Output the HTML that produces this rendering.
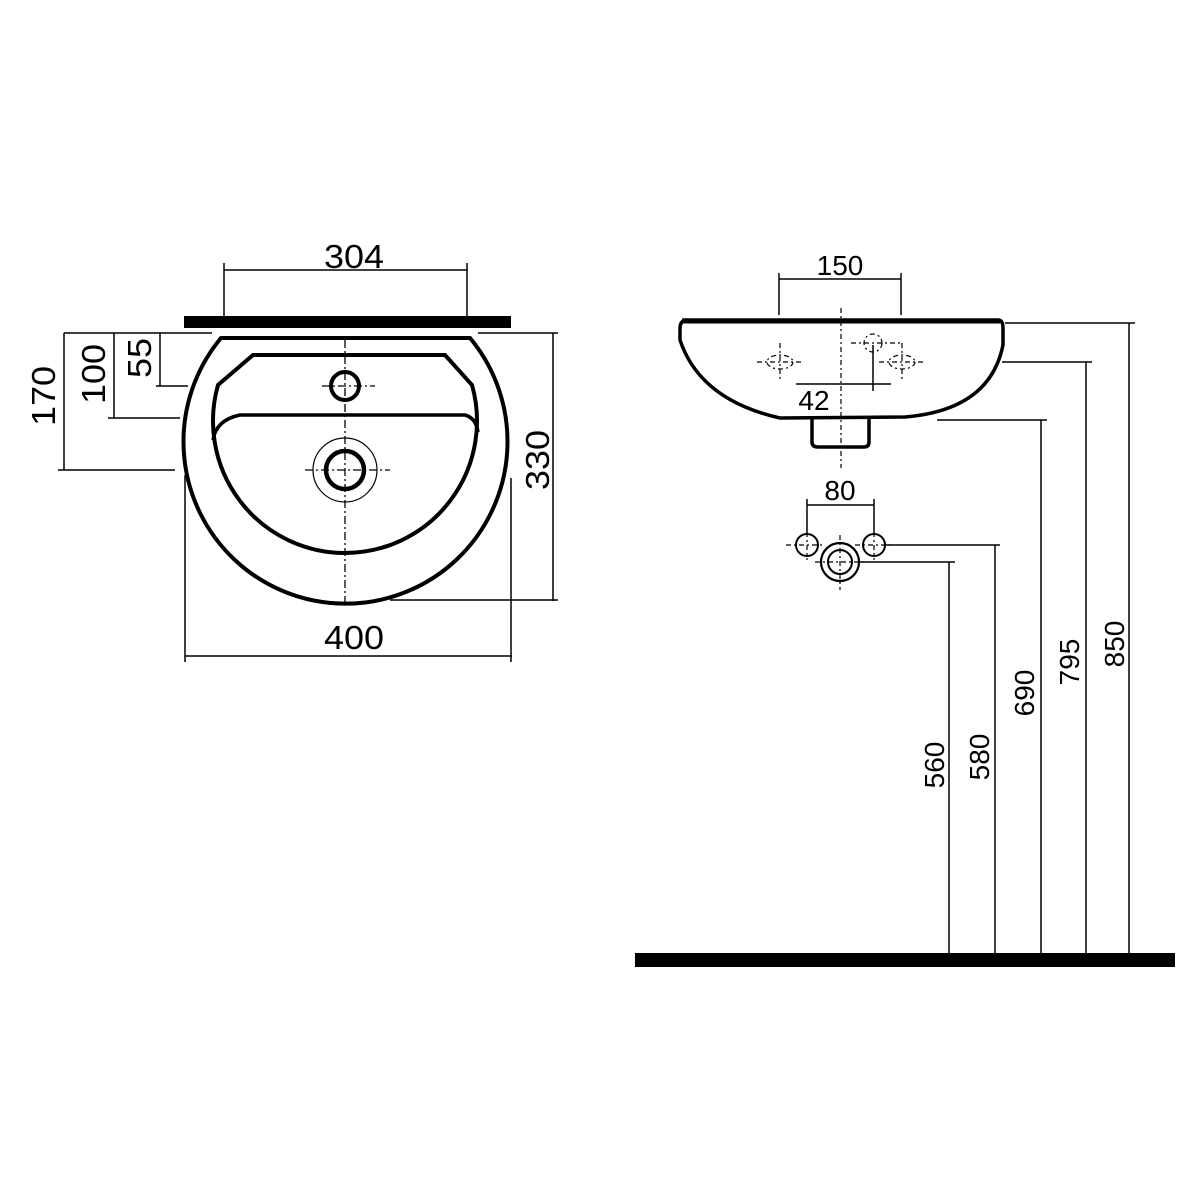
<!DOCTYPE html>
<html><head><style>html,body{margin:0;padding:0;background:#fff}svg{display:block}</style></head>
<body>
<svg width="1200" height="1200" viewBox="0 0 1200 1200" xmlns="http://www.w3.org/2000/svg" font-family="Liberation Sans, sans-serif" fill="none" stroke="#000">
<!-- LEFT VIEW -->
<rect x="184" y="316" width="327" height="12" fill="#000" stroke="none"/>
<g stroke-width="1.5">
<line x1="224" y1="270" x2="467" y2="270"/>
<line x1="224" y1="263" x2="224" y2="320"/>
<line x1="467" y1="263" x2="467" y2="320"/>
<line x1="64" y1="333" x2="212" y2="333"/>
<line x1="64" y1="333" x2="64" y2="470"/>
<line x1="58" y1="470" x2="175" y2="470"/>
<line x1="114" y1="333" x2="114" y2="418"/>
<line x1="108" y1="418" x2="180" y2="418"/>
<line x1="160" y1="333" x2="160" y2="386"/>
<line x1="156" y1="386" x2="188" y2="386"/>
<line x1="478" y1="333" x2="558" y2="333"/>
<line x1="553" y1="333" x2="553" y2="601"/>
<line x1="390" y1="600" x2="558" y2="600"/>
<line x1="185" y1="656" x2="512" y2="656"/>
<line x1="185" y1="475" x2="185" y2="662"/>
<line x1="511" y1="478" x2="511" y2="662"/>
</g>
<path d="M221,338 L470,338 A162,162 0 1 1 221,338 Z" stroke-width="4"/>
<path d="M253,355 L445,355 L472,385 A132,132 0 1 1 218,385 Z" stroke-width="4"/>
<path d="M213,440 Q216,420 240,415 L465,415 Q476,418 478,432" stroke-width="3.5"/>
<circle cx="345" cy="386" r="14" stroke-width="4"/>
<circle cx="345" cy="470" r="19" stroke-width="4.5"/>
<circle cx="345" cy="470" r="32" stroke-width="1.2"/>
<g stroke-width="1.3" stroke-dasharray="8,3,2,3">
<line x1="345" y1="340" x2="345" y2="602"/>
<line x1="322" y1="386" x2="375" y2="386"/>
<line x1="305" y1="470" x2="390" y2="470"/>
</g>
<g fill="#000" stroke="none" font-size="33">
<text x="354" y="268" text-anchor="middle" textLength="60" lengthAdjust="spacingAndGlyphs">304</text>
<text x="354" y="649" text-anchor="middle" textLength="60" lengthAdjust="spacingAndGlyphs">400</text>
<text transform="translate(55,396) rotate(-90)" text-anchor="middle" textLength="60" lengthAdjust="spacingAndGlyphs">170</text>
<text transform="translate(105,374) rotate(-90)" text-anchor="middle" textLength="60" lengthAdjust="spacingAndGlyphs">100</text>
<text transform="translate(151,358) rotate(-90)" text-anchor="middle" textLength="40" lengthAdjust="spacingAndGlyphs">55</text>
<text transform="translate(549,460) rotate(-90)" text-anchor="middle" textLength="60" lengthAdjust="spacingAndGlyphs">330</text>
</g>

<!-- RIGHT VIEW -->
<path d="M683,320 L998,320 Q1003,320 1003,328 L1003,345 Q990,410 905,417 L780,418 Q700,400 680,340 L680,328 Q680,320 688,320 Z" stroke-width="3.5"/>
<line x1="682" y1="321" x2="1000" y2="321" stroke-width="5"/>
<path d="M812,418 L812,442 Q812,447 818,447 L864,447 Q869,447 869,442 L869,418" stroke-width="3.5"/>
<g stroke-width="1.5">
<line x1="779" y1="279" x2="901" y2="279"/>
<line x1="779" y1="273" x2="779" y2="315"/>
<line x1="901" y1="273" x2="901" y2="315"/>
<line x1="796" y1="384" x2="891" y2="384"/>
<line x1="873" y1="345" x2="873" y2="391"/>
<line x1="807" y1="505" x2="874" y2="505"/>
<line x1="807" y1="499" x2="807" y2="535"/>
<line x1="874" y1="499" x2="874" y2="535"/>
<line x1="1005" y1="323" x2="1135" y2="323"/>
<line x1="1129" y1="323" x2="1129" y2="955"/>
<line x1="1002" y1="362" x2="1092" y2="362"/>
<line x1="1086" y1="362" x2="1086" y2="955"/>
<line x1="937" y1="420" x2="1047" y2="420"/>
<line x1="1041" y1="420" x2="1041" y2="955"/>
<line x1="885" y1="545" x2="1000" y2="545"/>
<line x1="995" y1="545" x2="995" y2="955"/>
<line x1="858" y1="562" x2="955" y2="562"/>
<line x1="949" y1="562" x2="949" y2="955"/>
</g>
<g stroke-width="1.2" stroke-dasharray="5,3,2,3">
<line x1="841" y1="308" x2="841" y2="468"/>
<line x1="757" y1="362" x2="803" y2="362"/><line x1="780" y1="343" x2="780" y2="381"/>
<ellipse cx="780" cy="362" rx="13" ry="7"/>
<line x1="879" y1="362" x2="925" y2="362"/><line x1="902" y1="343" x2="902" y2="381"/>
<ellipse cx="902" cy="362" rx="13" ry="7"/>
<circle cx="873" cy="343" r="9"/>
<line x1="851" y1="343" x2="900" y2="343"/>
<line x1="786" y1="545" x2="825" y2="545"/><line x1="807" y1="532" x2="807" y2="560"/>
<line x1="855" y1="545" x2="894" y2="545"/><line x1="874" y1="532" x2="874" y2="560"/>
<line x1="815" y1="562" x2="866" y2="562"/><line x1="840" y1="535" x2="840" y2="590"/>
</g>
<circle cx="807" cy="545" r="11" stroke-width="2"/>
<circle cx="874" cy="545" r="11" stroke-width="2"/>
<circle cx="840" cy="562" r="19" stroke-width="2.2"/>
<circle cx="840" cy="562" r="12" stroke-width="2"/>
<rect x="635" y="953" width="540" height="14" fill="#000" stroke="none"/>
<g fill="#000" stroke="none" font-size="28">
<text x="840" y="275" text-anchor="middle">150</text>
<text x="814" y="410" text-anchor="middle">42</text>
<text x="840" y="500" text-anchor="middle">80</text>
<text transform="translate(944,765) rotate(-90)" text-anchor="middle">560</text>
<text transform="translate(989,757) rotate(-90)" text-anchor="middle">580</text>
<text transform="translate(1034,693) rotate(-90)" text-anchor="middle">690</text>
<text transform="translate(1079,662) rotate(-90)" text-anchor="middle">795</text>
<text transform="translate(1124,644) rotate(-90)" text-anchor="middle">850</text>
</g>
</svg>
</body></html>
